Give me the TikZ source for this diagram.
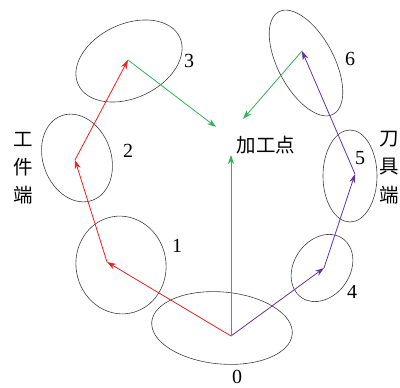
\documentclass[tikz,border=0pt]{standalone}
\usepackage{fontspec}
\setmainfont{Liberation Serif}
\newfontfamily\cjk{Noto Sans CJK SC}
\usetikzlibrary{arrows.meta}
\definecolor{myred}{RGB}{235,30,35}
\definecolor{mygreen}{RGB}{45,180,85}
\definecolor{mypurple}{RGB}{100,50,160}
\tikzset{
  ell/.style={draw=black!75, line width=0.6pt},
  arr/.style={line width=0.8pt, -{Stealth[length=9pt,width=6pt]}},
  num/.style={font=\fontsize{20}{20}\selectfont, inner sep=0pt},
  zh/.style={font=\cjk\fontsize{19.5}{19.5}\selectfont, inner sep=0pt},
}
\begin{document}
\begin{tikzpicture}[x=1pt,y=-1pt]
\useasboundingbox (0,0) rectangle (400,388);
% ellipses
\draw[ell] (222,328) ellipse[x radius=70.5, y radius=36, rotate=-5];
\draw[ell] (121,265) ellipse[x radius=45, y radius=49, rotate=10];
\draw[ell] (77,158) ellipse[x radius=45, y radius=34, rotate=-70];
\draw[ell] (129,61) ellipse[x radius=56, y radius=37, rotate=25];
\draw[ell] (322,268) ellipse[x radius=36, y radius=28, rotate=55];
\draw[ell] (350,176) ellipse[x radius=27, y radius=46, rotate=0];
\draw[ell] (306,63) ellipse[x radius=58, y radius=28, rotate=-62];
% points
\coordinate (p0) at (231,336);
\coordinate (p1) at (107,262);
\coordinate (p2) at (75,160);
\coordinate (p3) at (128,60);
\coordinate (p4) at (324,268);
\coordinate (p5) at (355,174);
\coordinate (p6) at (302,51);
\coordinate (g3) at (216,127);
\coordinate (g6) at (243,119);
\coordinate (g0) at (231,155);
% arrows
\draw[arr, myred] (p0) -- (p1);
\draw[arr, myred] (p1) -- (p2);
\draw[arr, myred] (p2) -- (p3);
\draw[arr, mypurple] (p0) -- (p4);
\draw[arr, mypurple] (p4) -- (p5);
\draw[arr, mypurple] (p5) -- (p6);
\draw[arr, mygreen] (p3) -- (g3);
\draw[arr, mygreen] (p6) -- (g6);
\draw[arr, mygreen] (p0) -- (g0);
% labels
\node[num] (l0) at (237,377) {0};
\node[num] (l1) at (177,246) {1};
\node[num] (l2) at (128,151) {2};
\node[num] (l3) at (189,61) {3};
\node[num] (l4) at (352,292) {4};
\node[num] (l5) at (360,158) {5};
\node[num] (l6) at (350,59) {6};
\node[zh] (jgd) at (266,145) {加工点};
\node[zh] (w1) at (23,139) {工};
\node[zh] (w2) at (23,167) {件};
\node[zh] (w3) at (23,195) {端};
\node[zh] (t1) at (389,139) {刀};
\node[zh] (t2) at (389,167) {具};
\node[zh] (t3) at (389,195) {端};
\end{tikzpicture}
\end{document}
